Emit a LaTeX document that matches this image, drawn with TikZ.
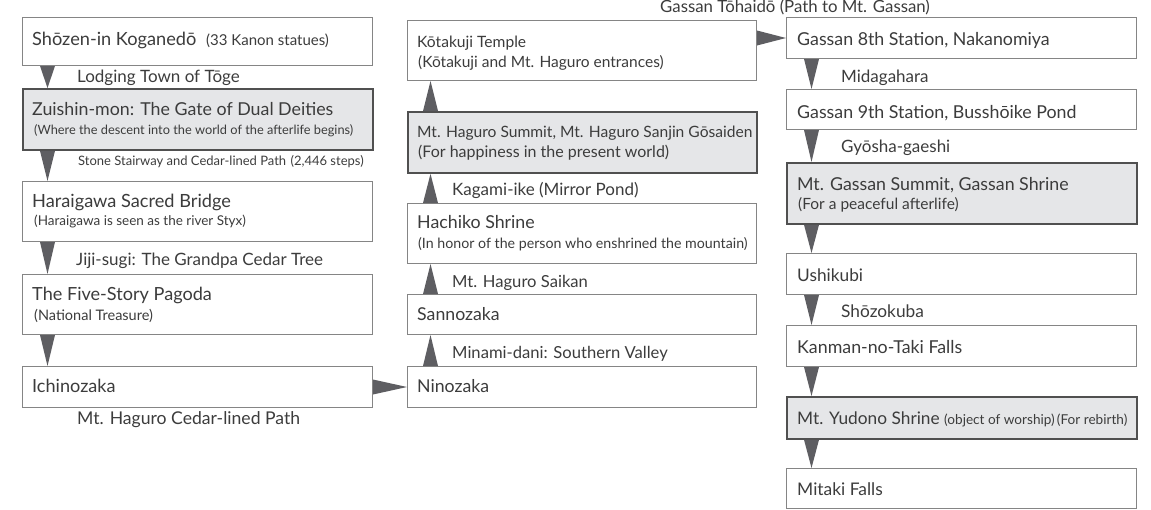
\documentclass[tikz,border=0pt]{standalone}
\usepackage{fontspec}
\setmainfont{Lato}
\usetikzlibrary{calc}
\definecolor{boxgray}{HTML}{858585}
\definecolor{darkb}{HTML}{505050}
\definecolor{hlfill}{HTML}{E5E6E8}
\definecolor{trifill}{HTML}{5E5E62}
\definecolor{txt}{HTML}{3C3C3C}
\tikzset{
  box/.style={draw=boxgray, line width=1pt, fill=white, inner sep=0pt, anchor=north west},
  hl/.style={box, draw=darkb, line width=1.8pt, fill=hlfill},
  txtbase/.style={anchor=base west, inner sep=0pt, text=txt},
  ttl/.style={txtbase, font=\fontsize{17.8}{17.8}\selectfont},
  ttlb/.style={txtbase, font=\fontsize{15.6}{15.6}\selectfont},
  sub/.style={txtbase, font=\fontsize{13.5}{13.5}\selectfont},
  subb/.style={txtbase, font=\fontsize{15.5}{15.5}\selectfont},
  lbl/.style={txtbase, font=\fontsize{17}{17}\selectfont},
  slbl/.style={txtbase, font=\fontsize{13}{13}\selectfont},
  tri/.style={fill=trifill},
}
\newcommand{\dtri}[2]{\fill[tri] ($(#1.south west)+(18,0)$) -- ($(#1.south west)+(33,0)$) -- ($(#2.north west)+(25.5,0)$) -- cycle;}
\newcommand{\utri}[2]{\fill[tri] ($(#2.north west)+(16,0)$) -- ($(#2.north west)+(31,0)$) -- ($(#1.south west)+(23.5,0)$) -- cycle;}
\begin{document}
\begin{tikzpicture}[x=1pt,y=-1pt]
\useasboundingbox (0,0) rectangle (1151,509);
% column 1
\node[box, minimum width=350pt, minimum height=48pt] (a1) at (22,17) {};
\node[hl,  minimum width=350pt, minimum height=61pt] (a2) at (22,88) {};
\node[box, minimum width=350pt, minimum height=60pt] (a3) at (22,181) {};
\node[box, minimum width=350pt, minimum height=60pt] (a4) at (22,274) {};
\node[box, minimum width=350pt, minimum height=41pt] (a5) at (22,366) {};
% column 2
\node[box, minimum width=349pt, minimum height=60pt] (b1) at (407,20) {};
\node[hl,  minimum width=349pt, minimum height=61pt] (b2) at (407,111) {};
\node[box, minimum width=349pt, minimum height=60pt] (b3) at (407,203) {};
\node[box, minimum width=349pt, minimum height=40pt] (b4) at (407,294) {};
\node[box, minimum width=349pt, minimum height=41pt] (b5) at (407,366) {};
% column 3
\node[box, minimum width=350pt, minimum height=41pt] (c1) at (786,17) {};
\node[box, minimum width=350pt, minimum height=40pt] (c2) at (786,89) {};
\node[hl,  minimum width=350pt, minimum height=61pt] (c3) at (786,162) {};
\node[box, minimum width=350pt, minimum height=41pt] (c4) at (786,253) {};
\node[box, minimum width=350pt, minimum height=41pt] (c5) at (786,325) {};
\node[hl,  minimum width=350pt, minimum height=42pt] (c6) at (786,396) {};
\node[box, minimum width=350pt, minimum height=40pt] (c7) at (786,468) {};

% texts column 1
\node[ttl, font=\fontsize{18.2}{18.2}\selectfont] (ta1) at (32,45) {Shōzen-in Koganedō};
\node[txtbase, font=\fontsize{15}{15}\selectfont] (ta1s) at (206,45) {(33 Kanon statues)};
\node[lbl] (la1) at (77,82) {Lodging Town of Tōge};
\node[ttl] (ta2) at (32,115) {Zuishin-mon: The Gate of Dual Deities};
\node[sub, font=\fontsize{12.8}{12.8}\selectfont] (ta2s) at (34,134) {(Where the descent into the world of the afterlife begins)};
\node[slbl] (la2) at (78,165) {Stone Stairway and Cedar-lined Path\,\,(2,446 steps)};
\node[ttl, font=\fontsize{18.2}{18.2}\selectfont] (ta3) at (32,207) {Haraigawa Sacred Bridge};
\node[sub] (ta3s) at (34,225) {(Haraigawa is seen as the river Styx)};
\node[lbl] (la3) at (76,265) {Jiji-sugi: The Grandpa Cedar Tree};
\node[ttl, font=\fontsize{18.1}{18.1}\selectfont] (ta4) at (32,300) {The Five-Story Pagoda};
\node[sub, font=\fontsize{14.5}{14.5}\selectfont] (ta4s) at (34,320) {(National Treasure)};
\node[ttl, font=\fontsize{18.1}{18.1}\selectfont] (ta5) at (32,392) {Ichinozaka};
\node[lbl, font=\fontsize{17.6}{17.6}\selectfont] (la5) at (77,424) {Mt. Haguro Cedar-lined Path};

% texts column 2
\node[ttlb] (tb1) at (417,47) {Kōtakuji Temple};
\node[subb] (tb1s) at (418,67) {(Kōtakuji and Mt. Haguro entrances)};
\node[ttlb] (tb2) at (417,137) {Mt. Haguro Summit, Mt. Haguro Sanjin Gōsaiden};
\node[subb, font=\fontsize{16}{16}\selectfont] (tb2s) at (418,157) {(For happiness in the present world)};
\node[lbl] (lb2) at (452,195) {Kagami-ike (Mirror Pond)};
\node[ttl] (tb3) at (417,228) {Hachiko Shrine};
\node[sub, font=\fontsize{14.2}{14.2}\selectfont] (tb3s) at (418,248) {(In honor of the person who enshrined the mountain)};
\node[lbl, font=\fontsize{16.6}{16.6}\selectfont] (lb3) at (452,287) {Mt. Haguro Saikan};
\node[ttl, font=\fontsize{17.7}{17.7}\selectfont] (tb4) at (417,320) {Sannozaka};
\node[lbl, font=\fontsize{16.6}{16.6}\selectfont] (lb4) at (452,358) {Minami-dani: Southern Valley};
\node[ttl, font=\fontsize{17.7}{17.7}\selectfont] (tb5) at (417,392) {Ninozaka};
\node[lbl, font=\fontsize{16.8}{16.8}\selectfont] (lg) at (660,12) {Gassan Tōhaidō (Path to Mt. Gassan)};

% texts column 3
\node[ttl] (tc1) at (797,45) {Gassan 8th Station, Nakanomiya};
\node[lbl] (lc1) at (841,82) {Midagahara};
\node[ttl] (tc2) at (797,118) {Gassan 9th Station, Busshōike Pond};
\node[lbl] (lc2) at (841,152) {Gyōsha-gaeshi};
\node[ttl] (tc3) at (797,190) {Mt. Gassan Summit, Gassan Shrine};
\node[subb] (tc3s) at (798,209) {(For a peaceful afterlife)};
\node[ttl, font=\fontsize{17.3}{17.3}\selectfont] (tc4) at (797,281) {Ushikubi};
\node[lbl, font=\fontsize{17.3}{17.3}\selectfont] (lc4) at (841,317) {Shōzokuba};
\node[ttl] (tc5) at (797,353) {Kanman-no-Taki Falls};
\node[ttl, font=\fontsize{17.3}{17.3}\selectfont] (tc6) at (797,424) {Mt. Yudono Shrine};
\node[txtbase, font=\fontsize{13.6}{13.6}\selectfont] (tc6s) at (944,424) {(object of worship)\,(For rebirth)};
\node[ttl, font=\fontsize{17.4}{17.4}\selectfont] (tc7) at (797,495) {Mitaki Falls};

% arrows column 1
\dtri{a1}{a2}
\dtri{a2}{a3}
\dtri{a3}{a4}
\dtri{a4}{a5}
% column 1 -> column 2
\fill[tri] ($(a5.east)+(0,-7.5)$) -- ($(a5.east)+(0,7.5)$) -- (b5.west) -- cycle;
% arrows column 2 (upwards)
\utri{b4}{b5}
\utri{b3}{b4}
\utri{b2}{b3}
\utri{b1}{b2}
% column 2 -> column 3
\fill[tri] ($(b1.east |- c1.west)+(0,-7.5)$) -- ($(b1.east |- c1.west)+(0,7.5)$) -- (c1.west) -- cycle;
% arrows column 3
\dtri{c1}{c2}
\dtri{c2}{c3}
\dtri{c3}{c4}
\dtri{c4}{c5}
\dtri{c5}{c6}
\dtri{c6}{c7}
\end{tikzpicture}
\end{document}
